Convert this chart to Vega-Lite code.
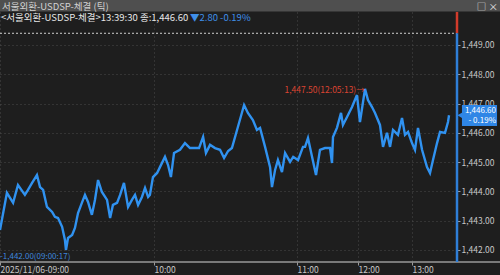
{
 "$schema": "https://vega.github.io/schema/vega-lite/v6.json",
 "width": 457, "height": 262,
 "autosize": {"type": "none"},
 "padding": {"left": 0, "top": 0, "right": 43, "bottom": 13},
 "background": "#1e1e1e",
 "config": {
  "view": {"stroke": null},
  "font": "Noto Sans CJK KR",
  "axisX": {"labelAlign": "left", "labelColor": "#c8c8c8", "labelFont": "Noto Sans CJK KR", "labelFontSize": 8.5,
            "labelPadding": 0, "tickSize": 3, "tickColor": "#9a9a9a", "domain": false, "grid": true,
            "gridColor": "#4a4a4a", "gridDash": [1,3], "labelFlush": false, "labelOverlap": false, "labelBound": false},
  "axisY": {"labelAlign": "left", "labelBaseline": "middle", "tickSize": 3, "tickColor": "#9a9a9a", "labelPadding": 1,
            "labelColor": "#c8c8c8", "labelFont": "Noto Sans CJK KR", "labelFontSize": 8.5, "domain": false,
            "grid": true, "gridColor": "#4a4a4a", "gridDash": [1,3], "labelOverlap": false}
 },
 "data": {"values": [
  {"m":0,"v":1442.68},{"m":2.7,"v":1443.95},{"m":5.1,"v":1443.61},{"m":7.0,"v":1444.22},{"m":9.7,"v":1443.88},
  {"m":10.9,"v":1444.05},{"m":12.5,"v":1444.29},{"m":14.4,"v":1444.56},{"m":15.6,"v":1444.15},{"m":16.8,"v":1444.05},
  {"m":18.3,"v":1443.47},{"m":20.3,"v":1443.30},{"m":21.4,"v":1443.13},{"m":22.6,"v":1443.09},{"m":24.2,"v":1442.79},
  {"m":25.3,"v":1442.34},{"m":25.7,"v":1442.00},{"m":26.5,"v":1442.41},{"m":28.1,"v":1442.51},{"m":29.2,"v":1442.75},
  {"m":30.4,"v":1443.26},{"m":31.9,"v":1443.61},{"m":33.1,"v":1443.88},{"m":34.3,"v":1443.64},{"m":35.8,"v":1443.20},
  {"m":37.0,"v":1443.71},{"m":38.2,"v":1444.39},{"m":39.7,"v":1443.98},{"m":41.7,"v":1443.71},{"m":42.9,"v":1443.09},
  {"m":44.0,"v":1443.54},{"m":45.6,"v":1443.61},{"m":46.8,"v":1443.88},{"m":48.3,"v":1444.29},{"m":49.9,"v":1443.47},
  {"m":51.4,"v":1443.71},{"m":52.6,"v":1443.88},{"m":53.8,"v":1443.54},{"m":55.3,"v":1443.81},{"m":56.5,"v":1444.12},
  {"m":57.7,"v":1443.81},{"m":58.4,"v":1443.88},{"m":59.6,"v":1444.49},{"m":61.3,"v":1444.63},{"m":62.5,"v":1444.83},
  {"m":64.6,"v":1445.18},{"m":65.9,"v":1444.90},{"m":67.1,"v":1444.49},{"m":68.4,"v":1445.31},{"m":70.9,"v":1445.42},
  {"m":73.0,"v":1445.65},{"m":75.1,"v":1445.48},{"m":77.2,"v":1445.48},{"m":78.9,"v":1445.48},{"m":80.6,"v":1445.86},
  {"m":81.8,"v":1445.31},{"m":83.5,"v":1445.59},{"m":85.6,"v":1445.48},{"m":87.7,"v":1445.42},{"m":89.4,"v":1445.14},
  {"m":91.1,"v":1445.38},{"m":92.7,"v":1445.48},{"m":95.2,"v":1446.20},{"m":97.8,"v":1446.95},{"m":99.4,"v":1446.68},
  {"m":101.5,"v":1446.44},{"m":103.2,"v":1446.10},{"m":104.5,"v":1446.17},{"m":106.6,"v":1445.52},{"m":108.7,"v":1444.83},
  {"m":109.5,"v":1444.15},{"m":110.8,"v":1444.73},{"m":112.0,"v":1445.07},{"m":113.7,"v":1444.66},{"m":115.0,"v":1445.31},
  {"m":117.1,"v":1445.01},{"m":118.4,"v":1445.18},{"m":121.0,"v":1445.07},{"m":125.9,"v":1445.52},{"m":127.9,"v":1445.52},
  {"m":130.8,"v":1445.82},{"m":134.8,"v":1445.18},{"m":138.7,"v":1444.56},{"m":142.6,"v":1445.42},{"m":147.5,"v":1445.48},
  {"m":152.5,"v":1445.48},{"m":154.4,"v":1444.97},{"m":155.4,"v":1445.86},{"m":159.3,"v":1446.17},{"m":163.3,"v":1446.68},
  {"m":165.2,"v":1446.27},{"m":169.2,"v":1446.54},{"m":174.1,"v":1446.88},{"m":179.0,"v":1447.29},{"m":182.2,"v":1446.37},
  {"m":187.8,"v":1447.50},{"m":191.1,"v":1447.12},{"m":195.6,"v":1446.88},{"m":198.9,"v":1446.68},{"m":204.4,"v":1446.27},
  {"m":207.8,"v":1445.52},{"m":212.2,"v":1446.00},{"m":215.6,"v":1445.52},{"m":218.9,"v":1446.10},{"m":224.4,"v":1445.93},
  {"m":228.9,"v":1446.51},{"m":232.2,"v":1445.93},{"m":235.6,"v":1446.03},{"m":240.0,"v":1445.65},{"m":243.2,"v":1445.42},
  {"m":246.4,"v":1446.17},{"m":250.7,"v":1445.42},{"m":256.0,"v":1444.83},{"m":259.2,"v":1444.63},{"m":262.4,"v":1445.07},
  {"m":266.7,"v":1445.65},{"m":269.9,"v":1446.03},{"m":275.2,"v":1446.00},{"m":278.4,"v":1446.37},{"m":279.5,"v":1446.60}
 ]},
 "layer": [
  {"mark": {"type": "line", "color": "#3092f0", "strokeWidth": 2.4},
   "encoding": {
    "x": {"field": "m", "type": "quantitative",
          "scale": {"domain": [0,60,120,180,240,288], "range": [0,154,297,358,412,457], "nice": false, "zero": false},
          "axis": {"values": [0,60,120,180,240], "labelExpr": "datum.value == 0 ? '2025/11/06-09:00' : (9 + datum.value/60) + ':00'", "title": null}},
    "y": {"field": "v", "type": "quantitative",
          "scale": {"domain": [1441.59, 1450.536], "nice": false, "zero": false},
          "axis": {"orient": "right", "values": [1442,1443,1444,1445,1446,1447,1448,1449], "format": ",.2f", "title": null}}
   }},
  {"data": {"values": [{}]},
   "mark": {"type": "rule", "color": "#d0d0d0", "strokeDash": [2,2], "strokeWidth": 1},
   "encoding": {"x": {"datum": 0}, "x2": {"datum": 288},
                "y": {"datum": 1449.4, "axis": {"orient": "right", "values": [1442,1443,1444,1445,1446,1447,1448,1449], "format": ",.2f", "title": null}}}},
  {"data": {"values": [{}]},
   "mark": {"type": "rule", "color": "#9a9a9a", "strokeWidth": 1.6},
   "encoding": {"x": {"datum": -5}, "x2": {"datum": 340},
                "y": {"datum": 1441.59, "axis": {"orient": "right", "values": [1442,1443,1444,1445,1446,1447,1448,1449], "format": ",.2f", "title": null}}}},
  {"data": {"values": [{}]},
   "mark": {"type": "rule", "color": "#d23b2b", "strokeWidth": 2.5},
   "encoding": {"x": {"datum": 288},
                "y": {"datum": 1450.13, "axis": {"orient": "right", "values": [1442,1443,1444,1445,1446,1447,1448,1449], "format": ",.2f", "title": null}}, "y2": {"datum": 1449.4}}},
  {"data": {"values": [{}]},
   "mark": {"type": "rule", "color": "#2f7fd8", "strokeWidth": 2.5},
   "encoding": {"x": {"datum": 288},
                "y": {"datum": 1449.4, "axis": {"orient": "right", "values": [1442,1443,1444,1445,1446,1447,1448,1449], "format": ",.2f", "title": null}}, "y2": {"datum": 1441.59}}},
  {"data": {"values": [{}]},
   "mark": {"type": "rect", "color": "#4f4f4f"},
   "encoding": {"x": {"datum": -10}, "x2": {"datum": 340},
                "y": {"datum": 1450.145, "axis": {"orient": "right", "values": [1442,1443,1444,1445,1446,1447,1448,1449], "format": ",.2f", "title": null}}, "y2": {"datum": 1451}}},
  {"data": {"values": [{}]},
   "mark": {"type": "text", "text": "서울외환-USDSP-체결 (틱)", "align": "left", "baseline": "alphabetic", "dx": 2, "fontSize": 9.5, "color": "#d2d2d2"},
   "encoding": {"x": {"datum": 0},
                "y": {"datum": 1450.195, "axis": {"orient": "right", "values": [1442,1443,1444,1445,1446,1447,1448,1449], "format": ",.2f", "title": null}}}},
  {"data": {"values": [{}]},
   "mark": {"type": "text", "text": "□ ×", "align": "right", "baseline": "alphabetic", "fontSize": 9.5, "color": "#e0e0e0"},
   "encoding": {"x": {"datum": 331.7},
                "y": {"datum": 1450.195, "axis": {"orient": "right", "values": [1442,1443,1444,1445,1446,1447,1448,1449], "format": ",.2f", "title": null}}}},
  {"data": {"values": [{}]},
   "mark": {"type": "text", "text": "<서울외환-USDSP-체결>13:39:30 종:1,446.60", "align": "left", "baseline": "alphabetic", "dx": 1, "fontSize": 9.5, "color": "#e6e6e6"},
   "encoding": {"x": {"datum": 0},
                "y": {"datum": 1449.836, "axis": {"orient": "right", "values": [1442,1443,1444,1445,1446,1447,1448,1449], "format": ",.2f", "title": null}}}},
  {"data": {"values": [{}]},
   "mark": {"type": "text", "text": "▼2.80 -0.19%", "align": "left", "baseline": "alphabetic", "dx": 1, "fontSize": 9.5, "color": "#3f8fe8"},
   "encoding": {"x": {"datum": 74.7},
                "y": {"datum": 1449.836, "axis": {"orient": "right", "values": [1442,1443,1444,1445,1446,1447,1448,1449], "format": ",.2f", "title": null}}}},
  {"data": {"values": [{}]},
   "mark": {"type": "text", "text": "1,447.50(12:05:13)→", "align": "right", "baseline": "middle", "fontSize": 8.5, "color": "#dc4432"},
   "encoding": {"x": {"datum": 187.5},
                "y": {"datum": 1447.45, "axis": {"orient": "right", "values": [1442,1443,1444,1445,1446,1447,1448,1449], "format": ",.2f", "title": null}}}},
  {"data": {"values": [{}]},
   "mark": {"type": "text", "text": "-1,442.00(09:00:17)", "align": "left", "baseline": "middle", "fontSize": 8, "color": "#3f86dc"},
   "encoding": {"x": {"datum": 0},
                "y": {"datum": 1441.76, "axis": {"orient": "right", "values": [1442,1443,1444,1445,1446,1447,1448,1449], "format": ",.2f", "title": null}}}},
  {"data": {"values": [{}]},
   "mark": {"type": "rect", "color": "#2f86e6"},
   "encoding": {"x": {"datum": 293.3}, "x2": {"datum": 330.7},
                "y": {"datum": 1446.234, "axis": {"orient": "right", "values": [1442,1443,1444,1445,1446,1447,1448,1449], "format": ",.2f", "title": null}}, "y2": {"datum": 1446.951}}},
  {"data": {"values": [{}]},
   "mark": {"type": "point", "shape": "triangle-left", "filled": true, "size": 60, "color": "#2f86e6", "opacity": 1},
   "encoding": {"x": {"datum": 292.0},
                "y": {"datum": 1446.6, "axis": {"orient": "right", "values": [1442,1443,1444,1445,1446,1447,1448,1449], "format": ",.2f", "title": null}}}},
  {"data": {"values": [{}]},
   "mark": {"type": "text", "text": "1,446.60", "align": "right", "baseline": "middle", "fontSize": 8, "color": "#ffffff"},
   "encoding": {"x": {"datum": 329.6},
                "y": {"datum": 1446.74, "axis": {"orient": "right", "values": [1442,1443,1444,1445,1446,1447,1448,1449], "format": ",.2f", "title": null}}}},
  {"data": {"values": [{}]},
   "mark": {"type": "text", "text": "- 0.19%", "align": "right", "baseline": "middle", "fontSize": 8, "color": "#ffffff"},
   "encoding": {"x": {"datum": 329.6},
                "y": {"datum": 1446.404, "axis": {"orient": "right", "values": [1442,1443,1444,1445,1446,1447,1448,1449], "format": ",.2f", "title": null}}}}
 ]
}
